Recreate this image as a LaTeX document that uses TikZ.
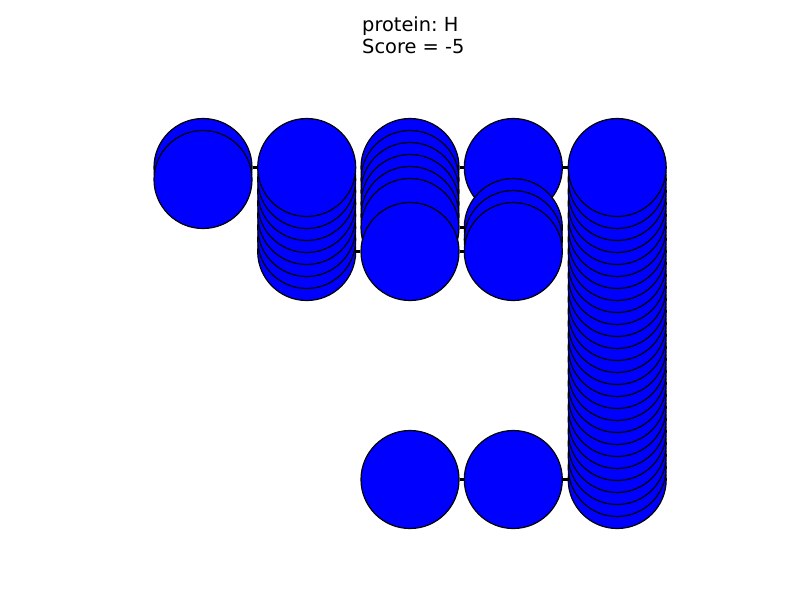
\documentclass[tikz,border=0pt]{standalone}
\usepackage{fontspec}
\setmainfont{DejaVu Sans}
\usetikzlibrary{positioning, backgrounds}
\frenchspacing

\begin{document}
\begin{tikzpicture}[
      x=1pt, y=-1pt,
      every node/.style={font=\fontsize{19.4}{21.8}\selectfont},
      residue/.style={circle, draw=black, fill=blue, line width=1.2pt,
                      minimum size=98pt, inner sep=0pt},
      bond/.style={line width=3.5pt, black},
    ]
    \useasboundingbox (0, 0) rectangle (800, 600);

    % title
    \node[anchor=base west, align=left, inner sep=0pt] (title) at (362, 53.3)
      {protein: H\\Score = -5};

    % column 1
    \foreach \k in {0, 1}
      \node[residue] (a\k) at (203, 167.5+12*\k) {};
    % column 2
    \foreach \k in {7, 6, ..., 0}
      \node[residue] (b\k) at (306.7, 167.5+12*\k) {};
    % column 3
    \foreach \k in {0, 1, 2, 3, 4, 5, 7, 26}
      \node[residue] (c\k) at (410, 167.5+12*\k) {};
    % column 4
    \foreach \k in {0, 5, 6, 7, 26}
      \node[residue] (d\k) at (513.3, 167.5+12*\k) {};
    % column 5
    \foreach \k in {26, 25, ..., 0}
      \node[residue] (e\k) at (617.2, 167.5+12*\k) {};

    % bonds
    \draw[bond] (a0) -- (b0);
    \draw[bond] (b7) -- (c7);
    \draw[bond] (c0) -- (d0);
    \draw[bond] (c5) -- (d5);
    \draw[bond] (c7) -- (d7);
    \draw[bond] (d0) -- (e0);
    \draw[bond] (c26) -- (d26);
    \draw[bond] (d26) -- (e26);
  \end{tikzpicture}
\end{document}
